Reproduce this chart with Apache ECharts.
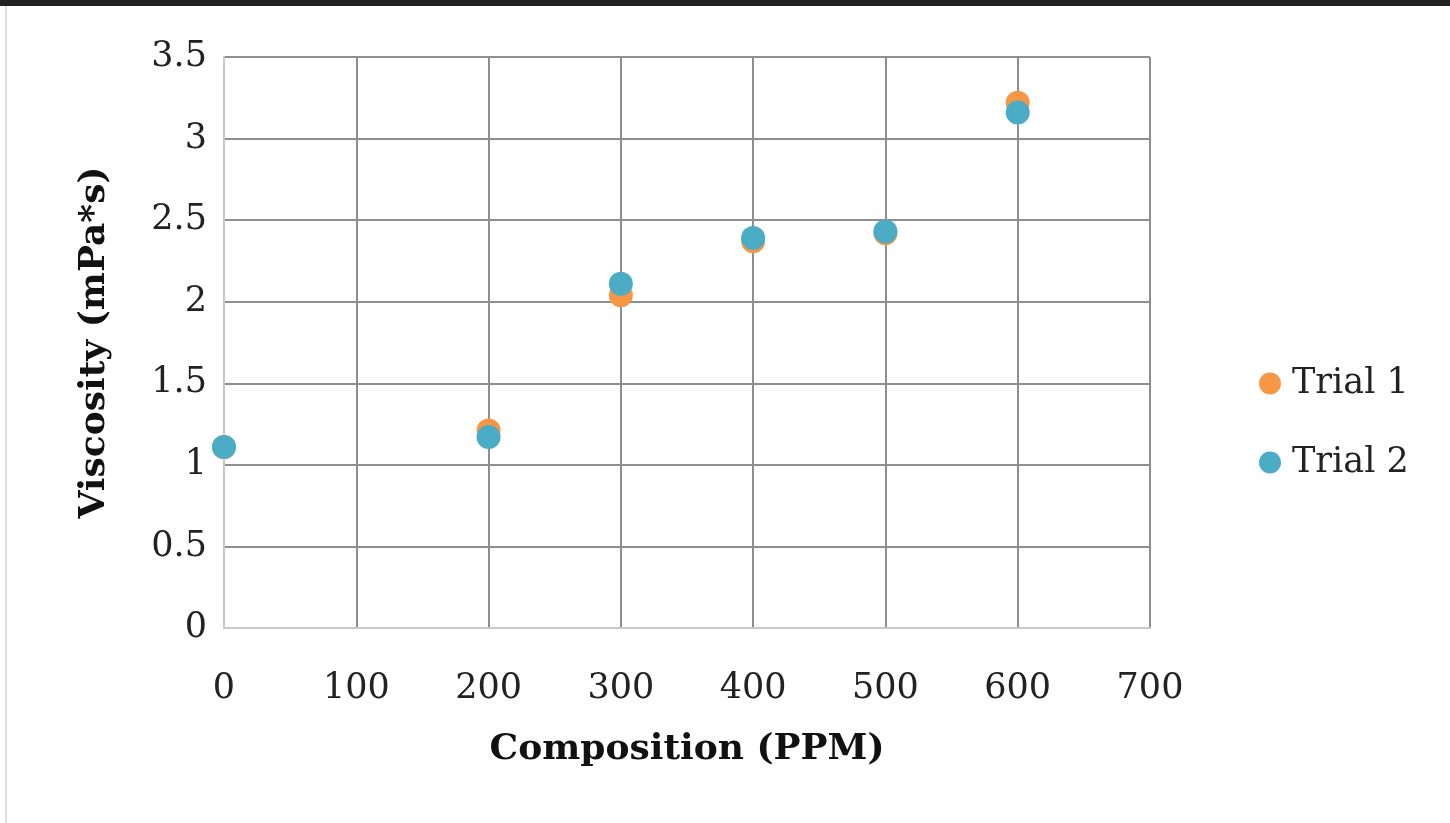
<!DOCTYPE html>
<html><head><meta charset="utf-8">
<script src="https://cdn.jsdelivr.net/npm/echarts@6/dist/echarts.min.js"></script>
<style>html,body{margin:0;padding:0;background:#fff;}#c{width:1450px;height:823px;}</style>
</head><body><div id="c"></div>
<script>
const compositions = [0, 200, 300, 400, 500, 600];
const trial1 = [1.11, 1.21, 2.04, 2.37, 2.42, 3.22];
const trial2 = [1.11, 1.17, 2.11, 2.39, 2.43, 3.16];
const seriesNames = ['Trial 1', 'Trial 2'];
const colors = ['#F79646', '#4BACC6'];
const font = '"DejaVu Serif", serif';

const chart = echarts.init(document.getElementById('c'));
chart.setOption({
  animation: false,
  graphic: [
    {type: 'rect', shape: {x: 0, y: 0, width: 1450, height: 6}, style: {fill: '#222'}},
    {type: 'rect', shape: {x: 5, y: 6, width: 2, height: 817}, style: {fill: '#ddd'}}
  ],
  grid: {left: 224, right: 300, top: 57, bottom: 195},
  legend: {
    orient: 'vertical', left: 1254, top: 361, itemGap: 44,
    icon: 'circle', itemWidth: 22, itemHeight: 22,
    textStyle: {fontFamily: font, fontSize: 35, color: '#222', padding: [0, 0, 0, 6]},
    data: seriesNames
  },
  xAxis: {
    type: 'value', min: 0, max: 700, interval: 100,
    name: 'Composition (PPM)', nameLocation: 'middle', nameGap: 104,
    nameTextStyle: {fontFamily: font, fontSize: 36, fontWeight: 'bold', color: '#111'},
    axisLine: {show: true, lineStyle: {color: '#c8c8c8', width: 2}},
    axisTick: {show: false},
    axisLabel: {fontFamily: font, fontSize: 35, color: '#222', margin: 43},
    splitLine: {show: true, lineStyle: {color: '#8e8e8e', width: 2}}
  },
  yAxis: {
    type: 'value', min: 0, max: 3.5, interval: 0.5,
    name: 'Viscosity (mPa*s)', nameLocation: 'middle', nameGap: 111, nameRotate: 90,
    nameTextStyle: {fontFamily: font, fontSize: 36, fontWeight: 'bold', color: '#111'},
    axisLine: {show: true, lineStyle: {color: '#c8c8c8', width: 2}},
    axisTick: {show: false},
    axisLabel: {fontFamily: font, fontSize: 35, color: '#222', margin: 17},
    splitLine: {show: true, lineStyle: {color: '#8e8e8e', width: 2}}
  },
  series: [
    {name: seriesNames[0], type: 'scatter', symbolSize: 24, itemStyle: {color: colors[0], opacity: 1},
     data: compositions.map((x, i) => [x, trial1[i]])},
    {name: seriesNames[1], type: 'scatter', symbolSize: 24, itemStyle: {color: colors[1], opacity: 1},
     data: compositions.map((x, i) => [x, trial2[i]])}
  ]
});
</script></body></html>
